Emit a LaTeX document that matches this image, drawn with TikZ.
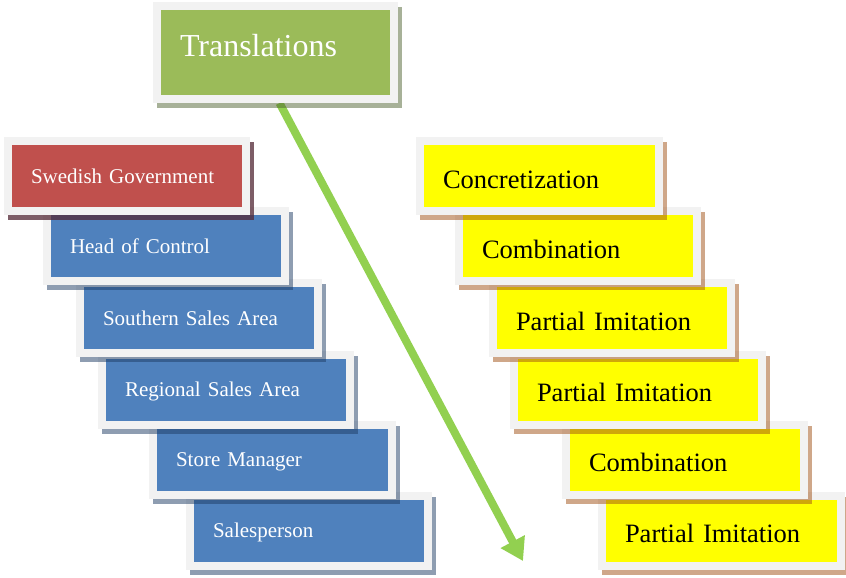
\documentclass[tikz,border=0pt]{standalone}
\usepackage{fontspec}
\setmainfont{Liberation Serif}
\usetikzlibrary{arrows.meta}
\definecolor{framec}{HTML}{F2F2F2}
\definecolor{redc}{HTML}{C0504D}
\definecolor{bluec}{HTML}{4F81BD}
\definecolor{greenc}{HTML}{9BBB59}
\definecolor{yellowc}{HTML}{FFFF00}
\definecolor{arrowc}{HTML}{92D050}
\definecolor{shred}{RGB}{110,30,30}
\definecolor{shblue}{RGB}{30,60,100}
\definecolor{shyellow}{RGB}{160,80,20}
\definecolor{shgreen}{RGB}{80,100,50}
\pgfdeclarelayer{bglayer}
\pgfdeclarelayer{arrowlayer}
\pgfsetlayers{bglayer,arrowlayer,main}
\tikzset{
  framebox/.style={draw=framec, line width=8pt, inner sep=0pt, align=left,
    minimum height=70pt, text depth=0pt},
  shadowed/.style={preaction={draw=#1, draw opacity=0.5, line width=8pt,
    transform canvas={shift={(4pt,-5pt)}}}},
  w230/.style={minimum width=238pt, text width=192pt},
  w231/.style={minimum width=239pt, text width=193pt},
  w240/.style={minimum width=248pt, text width=202pt},
  leftbox/.style={framebox, fill=bluec, shadowed=shblue, text=white,
    font=\fontsize{21}{24}\selectfont, text height=14pt},
  rightbox/.style={framebox, fill=yellowc, shadowed=shyellow, text=black,
    font=\fontsize{26.5}{30}\selectfont, text height=24pt},
  topbox/.style={framebox, fill=greenc, shadowed=shgreen, text=white,
    font=\fontsize{32}{36}\selectfont, text height=8pt,
    minimum width=237pt, text width=191pt, minimum height=93pt},
  arrowline/.style={draw=arrowc, line width=8pt,
    -{Triangle[width=26pt,length=22pt]}}
}
\begin{document}
\begin{tikzpicture}[x=1pt,y=-1pt]
\begin{pgfonlayer}{bglayer}
\fill[white] (0,0) rectangle (846,578);
\end{pgfonlayer}
\useasboundingbox (0,0) rectangle (846,578);

% right column (drawn bottom-up so upper boxes lie on top)
\node[rightbox, w231] (pi3) at (721.5,530.5) {Partial Imitation};
\node[rightbox, w230] (cb2) at (685,459.5) {Combination};
\node[rightbox, w240] (pi2) at (638,389.5) {Partial Imitation};
\node[rightbox, w230] (pi1) at (612,318) {Partial Imitation};
\node[rightbox, w230] (cb1) at (578,246) {Combination};
\node[rightbox, w231] (conc) at (539.5,176) {Concretization};

% left column
\node[leftbox, w230] (sp) at (309,530.5) {Salesperson};
\node[leftbox, w231] (sm) at (272.5,459.5) {Store Manager};
\node[leftbox, w240] (rsa) at (226,389.5) {Regional Sales Area};
\node[leftbox, w230] (ssa) at (199,318) {Southern Sales Area};
\node[leftbox, w230] (hc) at (166,246) {Head of Control};
\node[leftbox, w230, fill=redc, shadowed=shred] (sg) at (127,176) {Swedish Government};

% top box and arrow
\node[topbox] (trans) at (275.5,52.5) {Translations};
\coordinate (aend) at (523,561);
\begin{pgfonlayer}{arrowlayer}
\draw[arrowline] ([xshift=4pt]trans.south) -- (aend);
\end{pgfonlayer}
\end{tikzpicture}
\end{document}
